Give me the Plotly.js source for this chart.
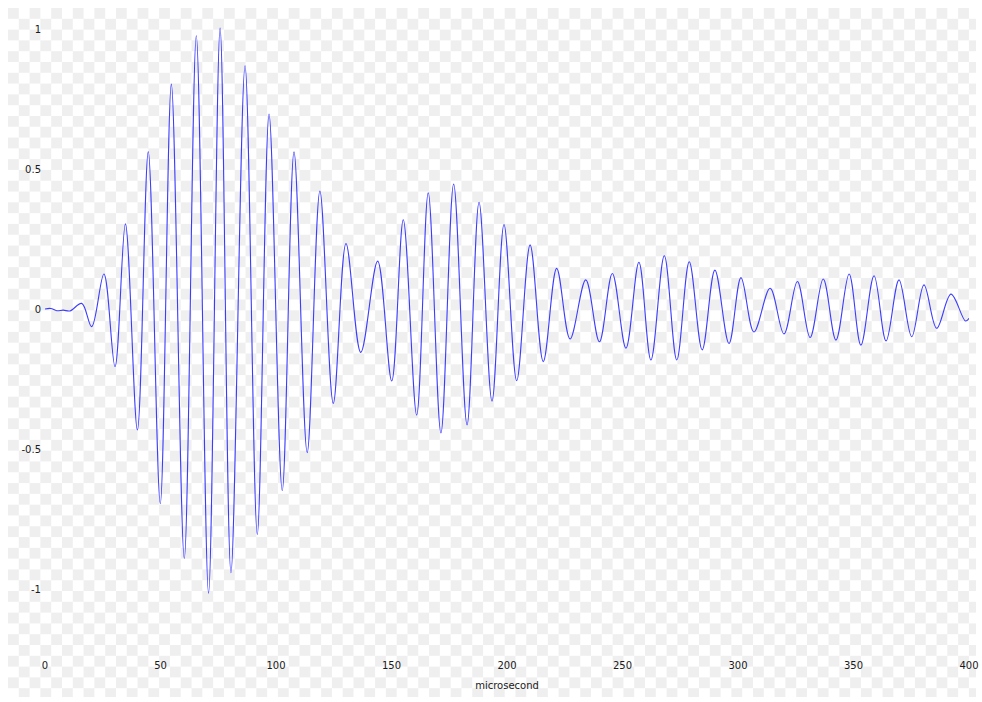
<!DOCTYPE html>
<html>
<head>
<meta charset="utf-8">
<script src="https://cdn.plot.ly/plotly-3.0.1.min.js"></script>
<style>
  html, body { margin: 0; padding: 0; background: #ffffff; }
  #wrap { position: relative; width: 982px; height: 702px; overflow: hidden; background: #ffffff; }
  #checker {
    position: absolute; left: 8px; top: 8px; width: 968px; height: 689px;
    background-image: conic-gradient(#ffffff 25%, #efefef 0 50%, #ffffff 0 75%, #efefef 0);
    background-size: 21.6px 21.6px;
  }
  #chart { position: absolute; left: 0; top: 0; width: 982px; height: 702px; }
</style>
</head>
<body>
<div id="wrap">
  <div id="checker"></div>
  <div id="chart"></div>
</div>
<script>
// Waveform turning points: time in microseconds and normalised amplitude
const timeUs = [
  0, 2.5, 5.1, 7.9, 10.8, 15.9, 20.2,
  25.5, 30.3, 34.8, 40.0, 44.7, 49.9, 54.7, 60.3, 65.5, 70.8,
  75.8, 80.5, 86.6, 91.9, 97.0, 102.7, 107.8, 113.5, 119.0, 124.8,
  130.3, 136.7, 144.0, 150.1, 155.1, 160.9, 165.9, 171.4, 176.9, 182.7,
  187.9, 193.5, 198.7, 204.2, 210.0, 215.7, 221.5, 227.3, 234.1, 240.0,
  245.6, 251.5, 257.1, 262.3, 268.1, 273.5, 278.9, 284.5, 290.0, 296.1,
  301.3, 306.9, 313.9, 319.9, 325.7, 331.2, 336.9, 342.4, 348.1, 353.2,
  358.9, 364.1, 369.7, 375.2, 380.5, 386.0, 392.2, 398.5, 400
];
const amplitude = [
  0, 0.002, -0.006, -0.004, -0.007, 0.02, -0.063,
  0.125, -0.206, 0.304, -0.432, 0.562, -0.695, 0.803, -0.891, 0.976, -1.015,
  1.003, -0.942, 0.869, -0.805, 0.696, -0.649, 0.561, -0.513, 0.421, -0.337,
  0.234, -0.155, 0.171, -0.257, 0.319, -0.379, 0.415, -0.443, 0.446, -0.414,
  0.381, -0.329, 0.302, -0.256, 0.229, -0.188, 0.145, -0.107, 0.104, -0.117,
  0.127, -0.140, 0.167, -0.182, 0.190, -0.182, 0.169, -0.146, 0.139, -0.123,
  0.112, -0.082, 0.074, -0.089, 0.098, -0.102, 0.107, -0.111, 0.125, -0.129,
  0.119, -0.114, 0.104, -0.099, 0.086, -0.069, 0.053, -0.043, -0.033
];
const xTicks = [0, 50, 100, 150, 200, 250, 300, 350, 400];
const yTicks = [-1, -0.5, 0, 0.5, 1];
const yTickText = ['-1', '-0.5', '0', '0.5', '1'];

const tickFont = { family: 'DejaVu Sans, sans-serif', size: 10, color: '#1a1a1a' };

Plotly.newPlot('chart', [{
  x: timeUs,
  y: amplitude,
  type: 'scatter',
  mode: 'lines',
  line: { color: 'rgb(60,60,255)', width: 1.1, shape: 'spline', smoothing: 1 },
  hoverinfo: 'skip'
}], {
  width: 982,
  height: 702,
  margin: { l: 45, r: 13, t: 15, b: 50 },
  paper_bgcolor: 'rgba(0,0,0,0)',
  plot_bgcolor: 'rgba(0,0,0,0)',
  showlegend: false,
  xaxis: {
    range: [0, 400],
    tickvals: xTicks,
    ticktext: xTicks.map(String),
    showgrid: false, zeroline: false, showline: false,
    ticks: '', ticklabelstandoff: 6,
    tickfont: tickFont,
    title: { text: 'microsecond', font: { family: 'DejaVu Sans, sans-serif', size: 10, color: '#1a1a1a' }, standoff: 11 }
  },
  yaxis: {
    range: [-1.225, 1.05],
    tickvals: yTicks,
    ticktext: yTickText,
    showgrid: false, zeroline: false, showline: false,
    ticks: '', ticklabelstandoff: 3,
    tickfont: tickFont
  }
}, { staticPlot: true, displayModeBar: false });
</script>
</body>
</html>
